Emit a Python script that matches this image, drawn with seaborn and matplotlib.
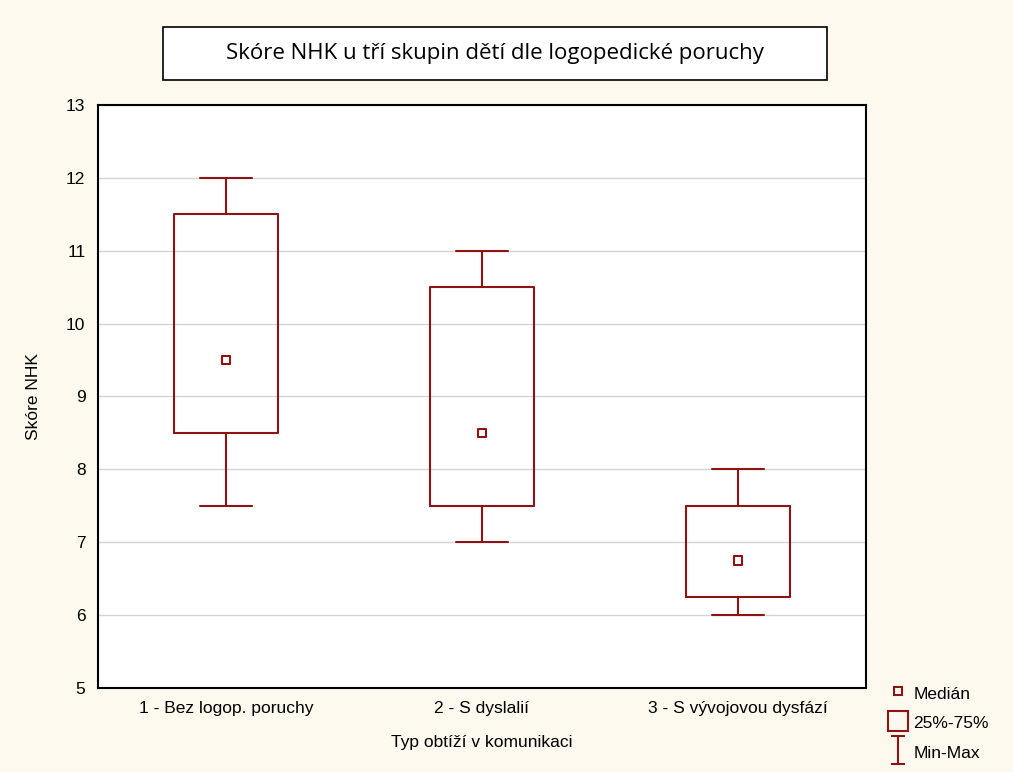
import numpy as np
import pandas as pd
import seaborn as sb
import matplotlib.pyplot as plt
from matplotlib.path import Path
from matplotlib.lines import Line2D
from matplotlib.patches import Rectangle

# values (min, q1, median, q3, max)
groups = ["1 - Bez logop. poruchy", "2 - S dyslalií", "3 - S vývojovou dysfází"]
mins = [7.5, 7.0, 6.0]
q1s = [8.5, 7.5, 6.25]
medians = [9.5, 8.5, 6.75]
q3s = [11.5, 10.5, 7.5]
maxs = [12.0, 11.0, 8.0]
yticks = [5, 6, 7, 8, 9, 10, 11, 12, 13]

red = "#8E1414"

# 5 values per group -> quartiles come out exactly as read
rows = []
for i, g in enumerate(groups):
    for v in [mins[i], q1s[i], medians[i], q3s[i], maxs[i]]:
        rows.append({"typ": g, "skore": v})
df = pd.DataFrame(rows)
dfMed = pd.DataFrame({"typ": groups, "skore": medians})

sb.set_style("white")
plt.rcParams['font.family'] = ['Liberation Sans', 'DejaVu Sans']
plt.rcParams['text.color'] = 'black'
plt.rcParams['axes.labelcolor'] = 'black'
plt.rcParams['xtick.color'] = 'black'
plt.rcParams['ytick.color'] = 'black'

fig = plt.figure(figsize=(10.13, 7.72), dpi=100, facecolor="#FEF9EE")
ax = fig.add_axes([0.0967, 0.1088, 0.7582, 0.7552])
ax.set_facecolor("white")

sb.boxplot(data=df, x="typ", y="skore", whis=(0, 100), width=0.405, fill=False,
           color=red, linewidth=1.5, showfliers=False,
           medianprops={"visible": False}, ax=ax)
sb.scatterplot(data=dfMed, x="typ", y="skore", marker="s", s=40, facecolor="none",
               edgecolor=red, linewidth=1.5, ax=ax, zorder=5)

ax.set_ylim(5, 13)
ax.set_xlim(-0.5, 2.5)
ax.set_yticks(yticks)
ax.set_yticklabels([str(t) for t in yticks], fontsize=12.5)
ax.set_xticks(range(len(groups)))
ax.set_xticklabels(groups, fontsize=12.5)
ax.tick_params(axis="both", direction="in", length=6, width=1, color="black", pad=9)
ax.yaxis.grid(True, color="#d4d4d4", linewidth=1)
ax.set_axisbelow(True)
for s in ax.spines.values():
    s.set_color("black")
    s.set_linewidth(1.5)
ax.set_xlabel("Typ obtíží v komunikaci", fontsize=12.5, labelpad=14)
ax.set_ylabel("Skóre NHK", fontsize=12.5, labelpad=18)

# title in a white box
fig.patches.append(Rectangle((0.161, 0.896), 0.655, 0.069, transform=fig.transFigure,
                             facecolor="white", edgecolor="black", linewidth=1.2))
fig.text(0.4887, 0.9307, "Skóre NHK u tří skupin dětí dle logopedické poruchy",
         ha="center", va="center", fontsize=16, family=["Open Sans", "DejaVu Sans"])

# legend with an I-beam marker for min-max
ibeam = Path([(-0.5, 1), (0.5, 1), (0, 1), (0, -1), (-0.5, -1), (0.5, -1)],
             [Path.MOVETO, Path.LINETO, Path.MOVETO, Path.LINETO, Path.MOVETO, Path.LINETO])
handles = [
    Line2D([], [], linestyle="none", marker="s", markersize=6, markerfacecolor="none",
           markeredgecolor=red, markeredgewidth=1.5),
    Line2D([], [], linestyle="none", marker="s", markersize=15, markerfacecolor="none",
           markeredgecolor=red, markeredgewidth=1.5),
    Line2D([], [], linestyle="none", marker=ibeam, markersize=20, markerfacecolor="none",
           markeredgecolor=red, markeredgewidth=1.5),
]
fig.legend(handles, ["Medián", "25%-75%", "Min-Max"], loc="lower left",
           bbox_to_anchor=(0.862, -0.004), frameon=False, fontsize=12.5,
           handlelength=1.2, handleheight=1.3, handletextpad=0.3, labelspacing=0.6,
           borderpad=0.3)

plt.savefig("out.png", dpi=100, facecolor=fig.get_facecolor())
